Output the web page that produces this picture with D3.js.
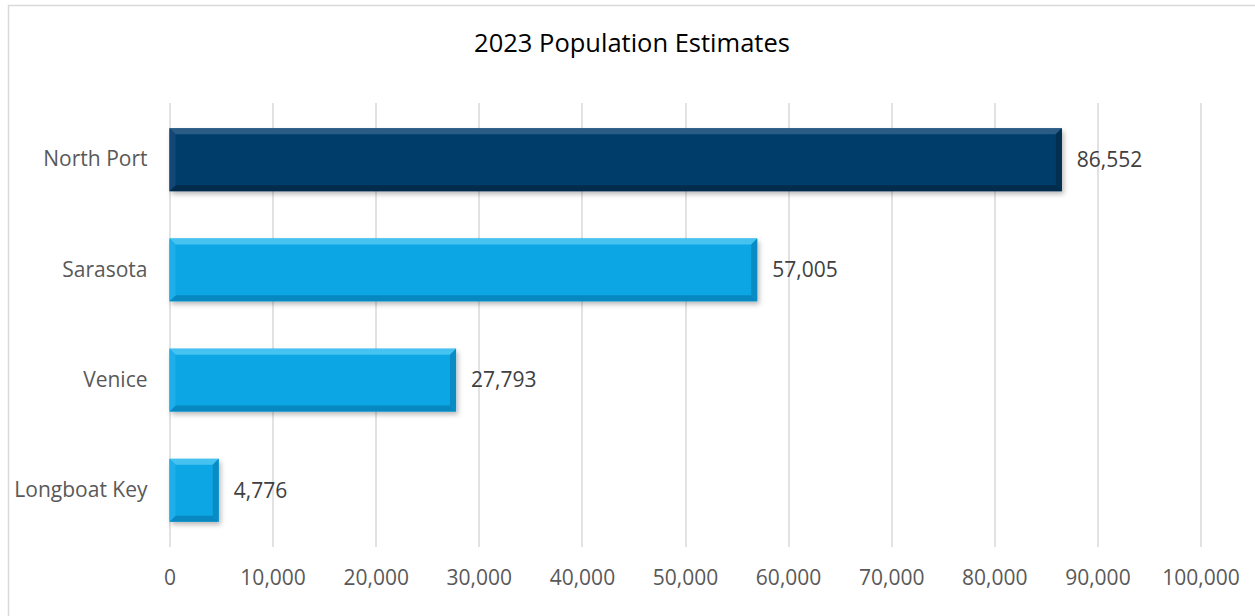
<!DOCTYPE html>
<html>
<head>
<meta charset="utf-8">
<script src="https://cdn.jsdelivr.net/npm/d3@7"></script>
<style>
  html, body { margin: 0; padding: 0; background: #fff; }
  #chart { width: 1255px; height: 616px; }
</style>
</head>
<body>
<div id="chart"></div>
<script>
const categories = ['North Port', 'Sarasota', 'Venice', 'Longboat Key'];
const populations = [86552, 57005, 27793, 4776];
const xTicks = [0, 10000, 20000, 30000, 40000, 50000, 60000, 70000, 80000, 90000, 100000];
const chartTitle = '2023 Population Estimates';

const width = 1255;
const height = 616;
const margin = { top: 103, right: 54.5, bottom: 69, left: 169.5 };
const plotW = width - margin.left - margin.right;
const plotH = height - margin.top - margin.bottom;

const svg = d3.select('#chart')
  .append('svg')
  .attr('width', width)
  .attr('height', height)
  .style('font-family', '"Open Sans", sans-serif');

// drop shadow for bars
const defs = svg.append('defs');
const shadow = defs.append('filter')
  .attr('id', 'shadow')
  .attr('x', '-10%').attr('y', '-20%')
  .attr('width', '130%').attr('height', '160%');
shadow.append('feDropShadow')
  .attr('dx', 2).attr('dy', 3)
  .attr('stdDeviation', 2.5)
  .attr('flood-color', '#000')
  .attr('flood-opacity', 0.28);

// chart area border (runs off the window right and bottom)
svg.append('rect')
  .attr('x', 8.5).attr('y', 5.5)
  .attr('width', 1300).attr('height', 700)
  .attr('fill', 'none')
  .attr('stroke', '#d9d9d9')
  .attr('stroke-width', 1.5);

svg.append('text')
  .attr('x', 632)
  .attr('y', 52)
  .attr('text-anchor', 'middle')
  .attr('font-size', 25.5)
  .attr('fill', '#000')
  .text(chartTitle);

const g = svg.append('g')
  .attr('transform', `translate(${margin.left},${margin.top})`);

const x = d3.scaleLinear().domain([0, 100000]).range([0, plotW]);
const y = d3.scaleBand().domain(categories).range([0, plotH]).paddingInner(0.43).paddingOuter(0.23);

// gridlines
g.selectAll('.grid')
  .data(xTicks)
  .enter()
  .append('line')
  .attr('class', 'grid')
  .attr('x1', d => Math.round(x(d)) + 0.5)
  .attr('x2', d => Math.round(x(d)) + 0.5)
  .attr('y1', 0)
  .attr('y2', plotH)
  .attr('stroke', '#d9d9d9')
  .attr('stroke-width', 1.5);

// x axis labels
const xAxis = g.append('g')
  .attr('transform', `translate(0,${plotH})`)
  .call(d3.axisBottom(x).tickValues(xTicks).tickSize(0).tickPadding(23).tickFormat(d3.format(',')));
xAxis.select('.domain').remove();
xAxis.selectAll('text')
  .attr('font-family', '"Open Sans", sans-serif')
  .attr('font-size', 21)
  .attr('fill', '#595959');

// y axis labels
const yAxis = g.append('g')
  .call(d3.axisLeft(y).tickSize(0).tickPadding(22));
yAxis.select('.domain').remove();
yAxis.selectAll('text')
  .attr('font-family', '"Open Sans", sans-serif')
  .attr('font-size', 21)
  .attr('fill', '#595959');

const palette = {
  dark: { base: '#063d6b', top: '#2a5c86', left: '#124778', right: '#04304f', bottom: '#032b4b' },
  light: { base: '#0ba6e4', top: '#45c2f0', left: '#1eaee9', right: '#098cc4', bottom: '#0888c0' }
};
const bev = 6;

const bars = g.selectAll('.bar')
  .data(categories.map((c, i) => ({ cat: c, value: populations[i], col: i === 0 ? palette.dark : palette.light })))
  .enter()
  .append('g')
  .attr('class', 'bar');

bars.append('rect')
  .attr('x', x(0))
  .attr('y', d => y(d.cat))
  .attr('width', d => x(d.value) - x(0))
  .attr('height', y.bandwidth())
  .attr('fill', d => d.col.base)
  .attr('filter', 'url(#shadow)');

// bevel edges
const edge = (d, side) => {
  const x0 = x(0), x1 = x(d.value), y0 = y(d.cat), y1 = y0 + y.bandwidth();
  const b = Math.min(bev, (x1 - x0) / 3);
  let pts;
  if (side === 'top') pts = [[x0, y0], [x1, y0], [x1 - b, y0 + b], [x0 + b, y0 + b]];
  if (side === 'bottom') pts = [[x0, y1], [x1, y1], [x1 - b, y1 - b], [x0 + b, y1 - b]];
  if (side === 'left') pts = [[x0, y0], [x0 + b, y0 + b], [x0 + b, y1 - b], [x0, y1]];
  if (side === 'right') pts = [[x1, y0], [x1 - b, y0 + b], [x1 - b, y1 - b], [x1, y1]];
  return pts.map(p => p.join(',')).join(' ');
};
['top', 'bottom', 'left', 'right'].forEach(side => {
  bars.append('polygon')
    .attr('points', d => edge(d, side))
    .attr('fill', d => d.col[side]);
});

// value labels
bars.append('text')
  .attr('x', d => x(d.value) + 15)
  .attr('y', d => y(d.cat) + y.bandwidth() / 2)
  .attr('dy', '0.35em')
  .attr('font-size', 21)
  .attr('fill', '#404040')
  .text(d => d3.format(',')(d.value));
</script>
</body>
</html>
